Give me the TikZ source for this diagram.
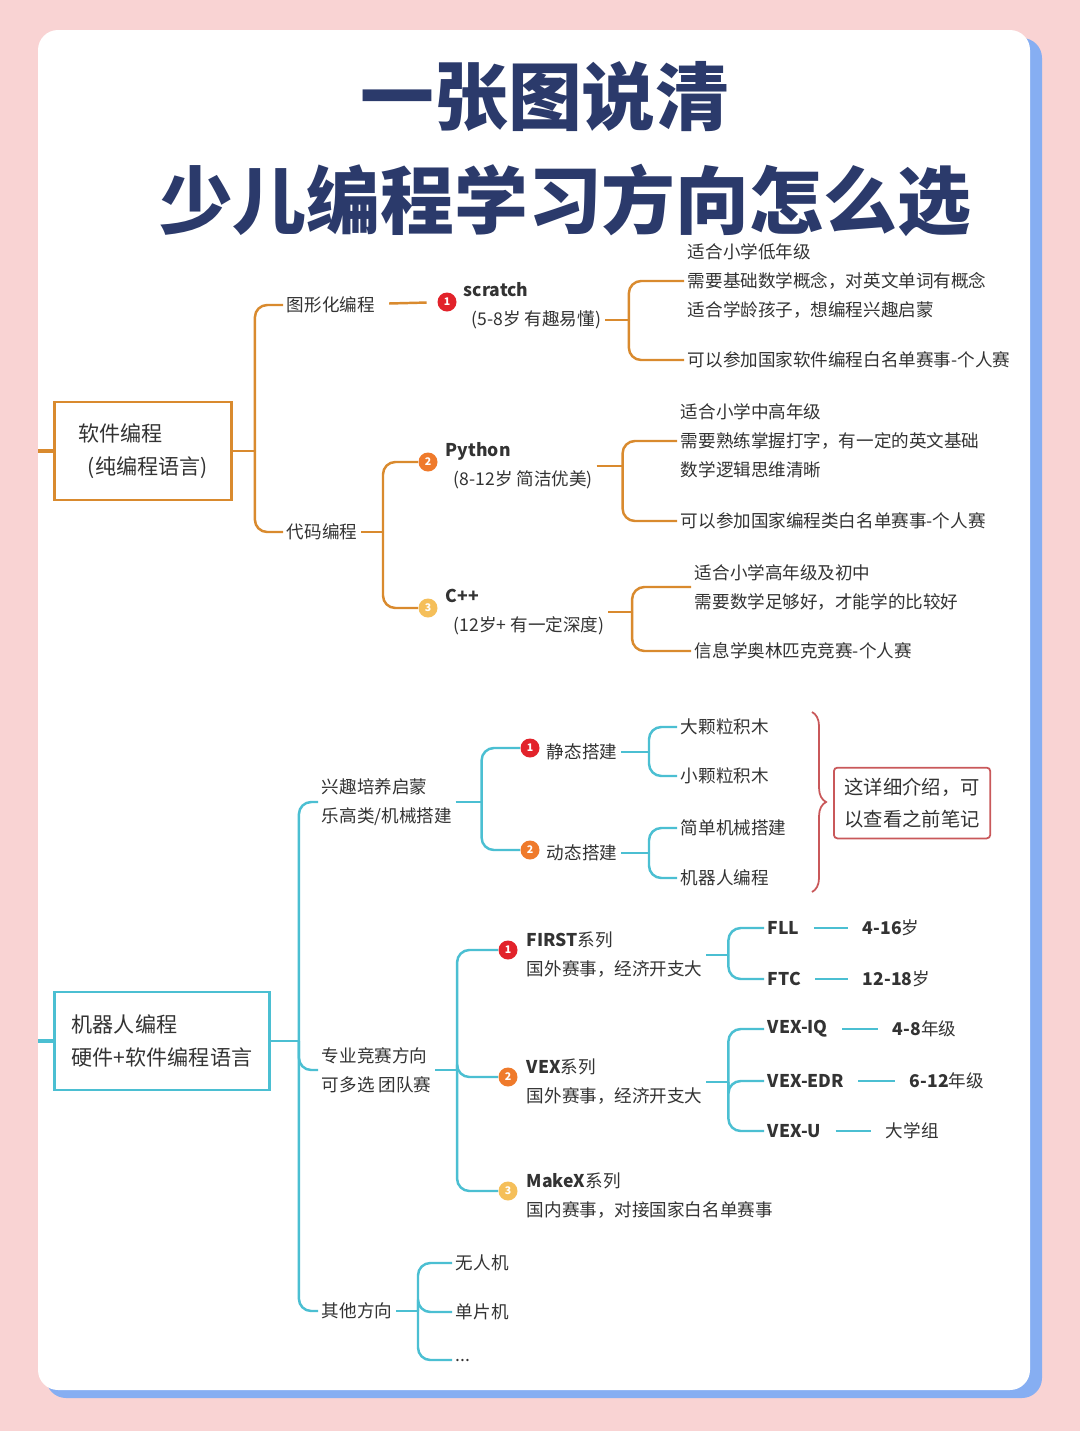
\documentclass[tikz,border=0pt]{standalone}
\usepackage{fontspec}
\setmainfont{Noto Sans CJK SC}
\usetikzlibrary{decorations.pathreplacing}
\definecolor{bgpink}{HTML}{F9D3D3}
\definecolor{cardblue}{HTML}{86AEF2}
\definecolor{navy}{HTML}{2B3A6B}
\definecolor{org}{HTML}{D98A2E}
\definecolor{teal}{HTML}{4BBFD2}
\definecolor{note}{HTML}{C9585A}
\definecolor{ink}{HTML}{333333}
\definecolor{one}{HTML}{E2232B}
\definecolor{two}{HTML}{EF7A2B}
\definecolor{three}{HTML}{F5BF5A}
\tikzset{
  txt/.style={anchor=west,inner sep=2pt,align=left,text=ink,font=\fontsize{10}{16.5}\selectfont},
  big/.style={txt,font=\fontsize{12}{19}\selectfont},
  badge/.style={circle,fill=#1,text=white,inner sep=0pt,minimum size=0.38cm,font=\fontsize{6}{6}\selectfont\bfseries},
  ob/.style={draw=org,line width=1.4pt,rounded corners=7pt},
  tb/.style={draw=teal,line width=1.4pt,rounded corners=7pt},
  link/.style={shorten <=6pt,shorten >=6pt}
}
\begin{document}
\begin{tikzpicture}[x=0.02cm,y=-0.02cm]
\useasboundingbox (0,0) rectangle (1080,1431);
\fill[bgpink] (0,0) rectangle (1080,1431);
\fill[cardblue,rounded corners=0.4cm] (46,38) rectangle (1042,1398);
\fill[white,rounded corners=0.4cm] (38,30) rectangle (1030,1390);
% title
\node[text=navy,font=\fontsize{42}{42}\selectfont\bfseries] (t1) at (545,97) {一张图说清};
\node[text=navy,font=\fontsize{42}{42}\selectfont\bfseries] (t2) at (565,200) {少儿编程学习方向怎么选};

% software part
\node[big,draw=org,line width=1.6pt,minimum width=3.54cm,minimum height=1.96cm,anchor=center] (soft) at (143,451) {软件编程\\\ \ (纯编程语言)};
\coordinate (sl) at (38,451);
\draw[org,line width=2pt] (sl) -- (soft.west);
\node[txt] (gfx) at (283,305) {图形化编程};
\node[txt] (code) at (283,532) {代码编程};
\draw[ob] (soft.east) -- ++(22,0) coordinate (s0);
\foreach \t in {gfx,code} \draw[ob] (s0) |- (\t.west);

\node[badge=one] (n1) at (447,302) {1};
\node[txt] (scr) at (460,306) {\textbf{scratch}\\\ \ (5-8岁 有趣易懂)};
\draw[ob,link] (gfx) -- (n1);
\node[txt] (s1) at (684,281) {适合小学低年级\\需要基础数学概念，对英文单词有概念\\适合学龄孩子，想编程兴趣启蒙};
\node[txt] (s2) at (684,360) {可以参加国家软件编程白名单赛事-个人赛};
\draw[ob] (scr.east) ++(0,14) -- ++(24,0) coordinate (s1m);
\foreach \t in {s1,s2} \draw[ob] (s1m) |- (\t.west);

\draw[ob] (code.east) -- ++(22,0) coordinate (c0);
\node[badge=two] (n2) at (428,462) {2};
\node[badge=three] (n3) at (428,608) {3};
\foreach \t in {n2,n3} \draw[ob] (c0) |- (\t.west);
\node[txt] (py) at (442,466) {\textbf{Python}\\\ \ (8-12岁 简洁优美)};
\node[txt] (cpp) at (442,612) {\textbf{C++}\\\ \ (12岁+ 有一定深度)};
\node[txt] (p1) at (677,441) {适合小学中高年级\\需要熟练掌握打字，有一定的英文基础\\数学逻辑思维清晰};
\node[txt] (p2) at (677,521) {可以参加国家编程类白名单赛事-个人赛};
\draw[ob] (py.east) -- ++(26,0) coordinate (pm);
\foreach \t in {p1,p2} \draw[ob] (pm) |- (\t.west);
\node[txt] (q1) at (691,587) {适合小学高年级及初中\\需要数学足够好，才能学的比较好};
\node[txt] (q2) at (691,651) {信息学奥林匹克竞赛-个人赛};
\draw[ob] (cpp.east) -- ++(24,0) coordinate (qm);
\foreach \t in {q1,q2} \draw[ob] (qm) |- (\t.west);

% robot part
\node[big,draw=teal,line width=1.6pt,minimum width=4.3cm,minimum height=1.96cm,anchor=center] (robo) at (162,1041) {机器人编程\\硬件+软件编程语言};
\coordinate (rl) at (38,1041);
\draw[teal,line width=2pt] (rl) -- (robo.west);
\node[txt] (fun) at (318,802) {兴趣培养启蒙\\乐高类/机械搭建};
\node[txt] (pro) at (318,1070) {专业竞赛方向\\可多选 团队赛};
\node[txt] (oth) at (318,1311) {其他方向};
\draw[tb] (robo.east) -- ++(28,0) coordinate (r0);
\foreach \t in {fun,pro,oth} \draw[tb] (r0) |- (\t.west);

\draw[tb] (fun.east) -- ++(26,0) coordinate (f0);
\node[badge=one] (m1) at (530,748) {1};
\node[badge=two] (m2) at (530,850) {2};
\foreach \t in {m1,m2} \draw[tb] (f0) |- (\t.west);
\node[txt] (stat) at (543,752) {静态搭建};
\node[txt] (dyn) at (543,853) {动态搭建};
\node[txt] (a1) at (677,727) {大颗粒积木};
\node[txt] (a2) at (677,776) {小颗粒积木};
\node[txt] (a3) at (677,828) {简单机械搭建};
\node[txt] (a4) at (677,878) {机器人编程};
\draw[tb] (stat.east) -- ++(28,0) coordinate (am);
\foreach \t in {a1,a2} \draw[tb] (am) |- (\t.west);
\draw[tb] (dyn.east) -- ++(28,0) coordinate (bm);
\foreach \t in {a3,a4} \draw[tb] (bm) |- (\t.west);
\coordinate (nt) at (812,712);
\coordinate (nb) at (812,892);
\draw[note,line width=1pt,decorate,decoration={brace,amplitude=8pt}] (nt) -- (nb);
\node[txt,font=\fontsize{11}{18}\selectfont,draw=note,line width=1pt,inner sep=6pt,rounded corners=2pt] (tip) at (833,803) {这详细介绍，可\\以查看之前笔记};

\draw[tb] (pro.east) -- ++(22,0) coordinate (k0);
\node[badge=one] (k1) at (508,950) {1};
\node[badge=two] (k2) at (508,1077) {2};
\node[badge=three] (k3) at (508,1191) {3};
\foreach \t in {k1,k2,k3} \draw[tb] (k0) |- (\t.west);
\node[txt] (first) at (523,955) {\textbf{FIRST}系列\\国外赛事，经济开支大};
\node[txt] (vex) at (523,1082) {\textbf{VEX}系列\\国外赛事，经济开支大};
\node[txt] (makex) at (523,1196) {\textbf{MakeX}系列\\国内赛事，对接国家白名单赛事};

\node[txt] (fll) at (764,928) {\textbf{FLL}};
\node[txt] (ftc) at (764,979) {\textbf{FTC}};
\node[txt] (fll2) at (859,928) {\textbf{4-16}岁};
\node[txt] (ftc2) at (859,979) {\textbf{12-18}岁};
\draw[tb] (first.east) -- ++(22,0) coordinate (fm);
\foreach \t in {fll,ftc} \draw[tb] (fm) |- (\t.west);
\node[txt] (iq) at (764,1029) {\textbf{VEX-IQ}};
\node[txt] (edr) at (764,1081) {\textbf{VEX-EDR}};
\node[txt] (vu) at (764,1131) {\textbf{VEX-U}};
\node[txt] (iq2) at (889,1029) {\textbf{4-8}年级};
\node[txt] (edr2) at (906,1081) {\textbf{6-12}年级};
\node[txt] (vu2) at (882,1131) {大学组};
\draw[tb] (vex.east) -- ++(22,0) coordinate (vm);
\foreach \t in {iq,edr,vu} \draw[tb] (vm) |- (\t.west);
\foreach \a/\b in {fll/fll2,ftc/ftc2,iq/iq2,edr/edr2,vu/vu2}
  \draw[teal,line width=1.4pt,link] (\a) -- (\b);

\draw[tb] (oth.east) -- ++(22,0) coordinate (om);
\node[txt] (o1) at (452,1263) {无人机};
\node[txt] (o2) at (452,1312) {单片机};
\node[txt] (o3) at (452,1360) {...};
\foreach \t in {o1,o2,o3} \draw[tb] (om) |- (\t.west);
\end{tikzpicture}
\end{document}
